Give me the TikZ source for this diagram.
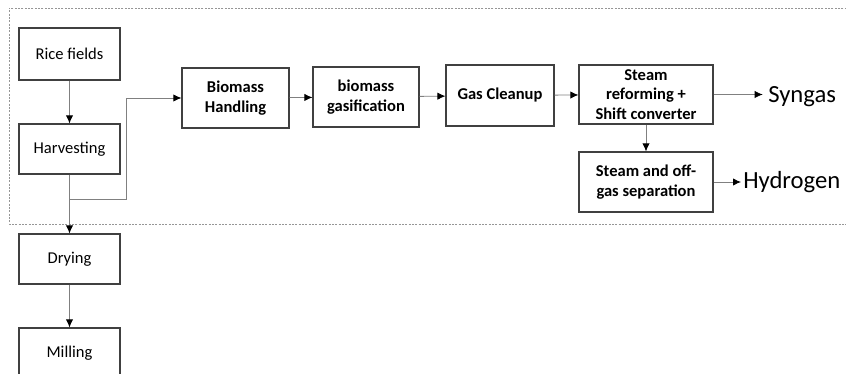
\documentclass[tikz,border=0pt]{standalone}
\usepackage{fontspec}
\setmainfont{Carlito}
\usetikzlibrary{positioning,arrows.meta}
\definecolor{boxline}{RGB}{64, 64, 64}
\definecolor{flowline}{RGB}{128, 128, 128}
\definecolor{zone}{RGB}{150, 150, 150}

\begin{document}
\begin{tikzpicture}[
    x=0.75pt, y=-0.75pt,
    font=\fontsize{12.4}{14.5}\selectfont,
    step box/.style={
        rectangle, draw=boxline, line width=0.9pt,
        inner sep=0pt, align=center,
        minimum width=#1*0.75pt, minimum height=50*0.75pt
    },
    stage/.style={step box=#1, font=\fontsize{12.4}{14.5}\selectfont\bfseries},
    flow/.style={
        -{Latex[length=6pt,width=5.5pt,color=black]}, line width=0.6pt,
        draw=flowline
    },
    product/.style={font=\fontsize{18.5}{20}\selectfont, anchor=west, inner sep=0pt}
]
\useasboundingbox (0,0) rectangle (846,374);

% Dotted zone round the rice field part
\draw[zone, line width=0.6pt, dash pattern=on 1.5pt off 1pt] (850,8) -- (9,8) -- (9,224) -- (850,224);

% Left column
\node[step box=101, minimum height=52*0.75pt] at (69.5,54) (rice) {Rice fields};
\node[step box=101] at (69.5,149) (harvest) {Harvesting};
\node[step box=101] at (69.5,259) (drying) {Drying};
\node[step box=101] at (69.5,353) (milling) {Milling};

% Gasification chain
\node[stage=107, minimum height=60*0.75pt] at (235.5,98) (handling) {Biomass\\Handling};
\node[stage=106, minimum height=60*0.75pt] at (366,97) (gasif) {biomass\\gasification};
\node[stage=108, minimum height=61*0.75pt] at (500,95.5) (cleanup) {Gas Cleanup};
\node[stage=134, minimum height=59*0.75pt] at (646,94.5) (reform) {Steam\\reforming +\\Shift converter};
\node[stage=134, minimum height=60*0.75pt] at (646,182) (separation) {Steam and off-\\gas separation};

% Products
\node[product] at (768,97) (syngas) {Syngas};
\node[product] at (743,182) (hydrogen) {Hydrogen};

% Branch point below harvesting
\coordinate (split) at (69.5,199);
\coordinate (turn) at (126,199);

% Connections
\draw[flow] (rice) -- (harvest);
\draw[flow] (harvest) -- (drying);
\draw[flow] (drying) -- (milling);
\draw[flow] (split) -- (turn) |- (handling.west);
\draw[flow] (handling) -- (gasif);
\draw[flow] (gasif) -- (cleanup);
\draw[flow] (cleanup) -- (reform);
\draw[flow] (reform) -- (separation);
\draw[flow, shorten >=4pt] (reform.east) -- (syngas.west|-reform.east);
\draw[flow, shorten >=1.5pt] (separation.east) -- (hydrogen.west|-separation.east);

\end{tikzpicture}
\end{document}
